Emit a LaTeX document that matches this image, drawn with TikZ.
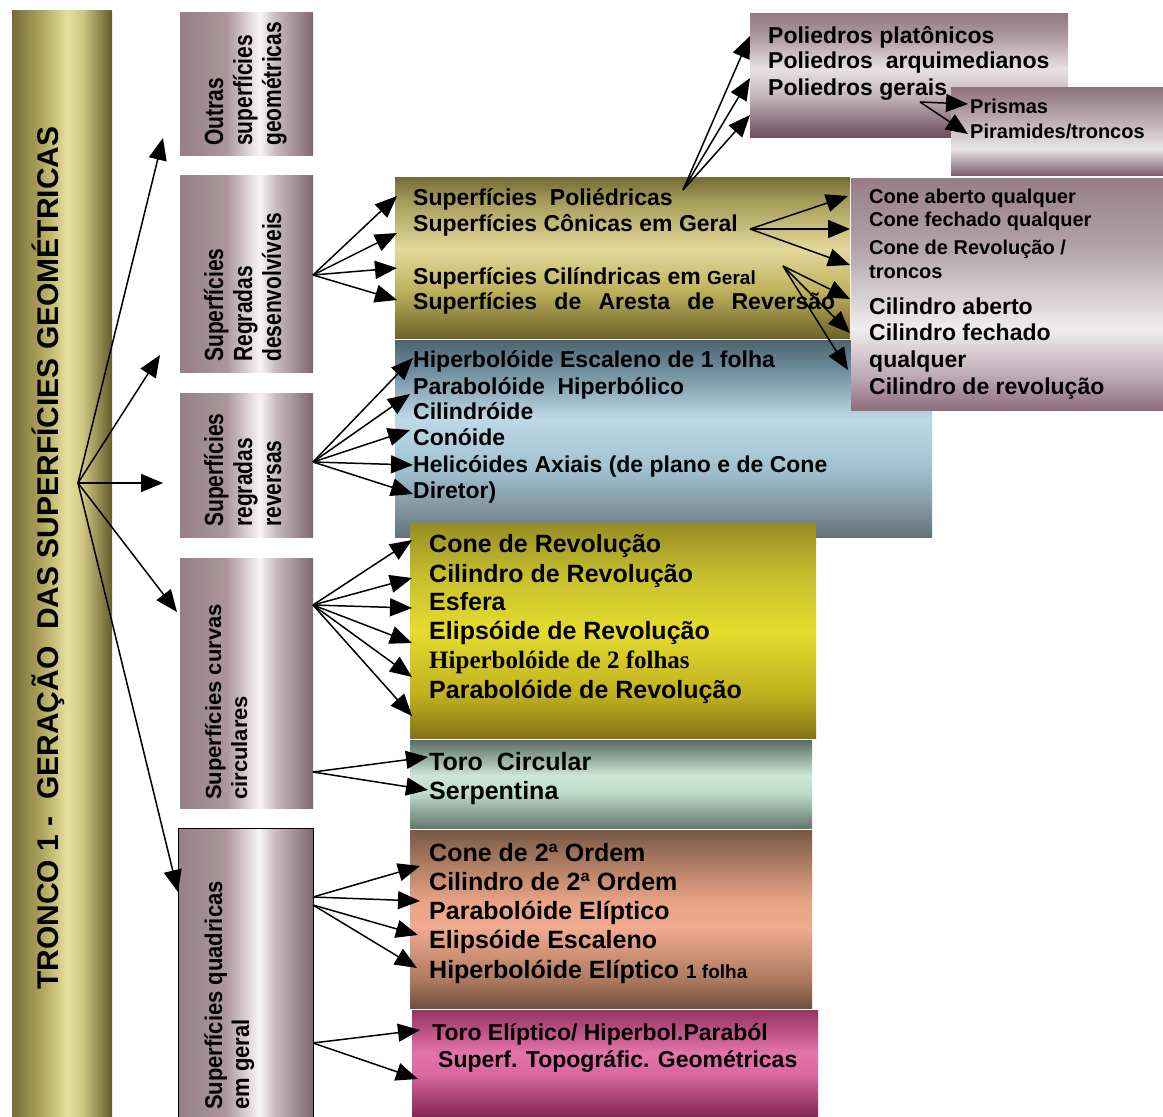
\documentclass[tikz,border=0pt]{standalone}
\usepackage{graphicx}
\usepackage{fontspec}
\setmainfont{Liberation Sans}
\newfontfamily\serifbold{Liberation Serif}
\usetikzlibrary{arrows.meta}

% ---------- shadings (stops between 25bp and 75bp cover the shaded path) ----------
% horizontal: colour varies from left (25bp) to right (75bp)
\pgfdeclarehorizontalshading{trunkshade}{100bp}{rgb(0bp)=(.47,.43,.22); rgb(25bp)=(.47,.43,.22); rgb(40bp)=(.69,.65,.37); rgb(52.5bp)=(.90,.88,.62); rgb(60bp)=(.82,.78,.52); rgb(75bp)=(.39,.36,.16); rgb(100bp)=(.39,.36,.16)}
\pgfdeclarehorizontalshading{mauveH}{100bp}{rgb(0bp)=(.59,.50,.53); rgb(25bp)=(.59,.50,.53); rgb(42.5bp)=(.67,.59,.61); rgb(51bp)=(.88,.84,.86); rgb(55bp)=(.97,.96,.97); rgb(61bp)=(.78,.73,.75); rgb(75bp)=(.50,.40,.44); rgb(100bp)=(.50,.40,.44)}
% vertical: colour varies from bottom (25bp) to top (75bp)
\pgfdeclareverticalshading{polyV}{100bp}{rgb(0bp)=(.43,.31,.37); rgb(25bp)=(.43,.31,.37); rgb(42.5bp)=(.78,.73,.75); rgb(52.5bp)=(.91,.88,.89); rgb(65bp)=(.69,.61,.64); rgb(75bp)=(.57,.47,.51); rgb(100bp)=(.57,.47,.51)}
\pgfdeclareverticalshading{prismV}{100bp}{rgb(0bp)=(.49,.37,.43); rgb(25bp)=(.49,.37,.43); rgb(40bp)=(.92,.90,.91); rgb(55bp)=(.75,.69,.71); rgb(75bp)=(.55,.45,.49); rgb(100bp)=(.55,.45,.49)}
\pgfdeclareverticalshading{oliveV}{100bp}{rgb(0bp)=(.43,.39,.16); rgb(25bp)=(.43,.39,.16); rgb(40bp)=(.75,.70,.37); rgb(52.5bp)=(.89,.85,.61); rgb(67.5bp)=(.65,.61,.35); rgb(75bp)=(.45,.42,.22); rgb(100bp)=(.45,.42,.22)}
\pgfdeclareverticalshading{coneV}{100bp}{rgb(0bp)=(.55,.43,.49); rgb(25bp)=(.55,.43,.49); rgb(32.5bp)=(.75,.67,.71); rgb(42.5bp)=(.94,.93,.93); rgb(60bp)=(.70,.64,.66); rgb(75bp)=(.59,.49,.53); rgb(100bp)=(.59,.49,.53)}
\pgfdeclareverticalshading{blueV}{100bp}{rgb(0bp)=(.39,.45,.47); rgb(25bp)=(.39,.45,.47); rgb(32.5bp)=(.51,.59,.63); rgb(42.5bp)=(.63,.76,.82); rgb(55bp)=(.75,.85,.90); rgb(67.5bp)=(.43,.55,.61); rgb(75bp)=(.31,.39,.43); rgb(100bp)=(.31,.39,.43)}
\pgfdeclareverticalshading{yellowV}{100bp}{rgb(0bp)=(.51,.45,.08); rgb(25bp)=(.51,.45,.08); rgb(35bp)=(.75,.69,.12); rgb(50bp)=(.90,.86,.18); rgb(62.5bp)=(.78,.75,.18); rgb(75bp)=(.59,.55,.14); rgb(100bp)=(.59,.55,.14)}
\pgfdeclareverticalshading{greenV}{100bp}{rgb(0bp)=(.39,.47,.43); rgb(25bp)=(.39,.47,.43); rgb(45bp)=(.75,.86,.80); rgb(55bp)=(.80,.90,.84); rgb(75bp)=(.35,.43,.39); rgb(100bp)=(.35,.43,.39)}
\pgfdeclareverticalshading{brownV}{100bp}{rgb(0bp)=(.43,.31,.24); rgb(25bp)=(.43,.31,.24); rgb(32.5bp)=(.67,.47,.37); rgb(47.5bp)=(.94,.67,.56); rgb(55bp)=(.91,.64,.52); rgb(75bp)=(.47,.35,.27); rgb(100bp)=(.47,.35,.27)}
\pgfdeclareverticalshading{pinkV}{100bp}{rgb(0bp)=(.51,.16,.33); rgb(25bp)=(.51,.16,.33); rgb(32.5bp)=(.63,.24,.43); rgb(45bp)=(.86,.41,.63); rgb(55bp)=(.89,.45,.66); rgb(75bp)=(.59,.20,.39); rgb(100bp)=(.59,.20,.39)}

\newcommand\fs[2]{\fontsize{#1}{#2}\selectfont}
% taller glyphs for the labels standing on end
\newcommand\tall[1]{\scalebox{1}[1.25]{#1}}

\begin{document}
\begin{tikzpicture}[x=1pt,y=-1pt,
  box/.style={shade, inner sep=0pt, outer sep=0pt, anchor=north west},
  txt/.style={anchor=base west, inner sep=0pt, font=\bfseries\fs{23}{27}},
  big/.style={anchor=base west, inner sep=0pt, font=\bfseries\fs{25}{29}},
  sml/.style={anchor=base west, inner sep=0pt, font=\bfseries\fs{20}{24}},
  vlab/.style={anchor=base west, inner sep=0pt, rotate=90, font=\bfseries\fs{21}{25}},
  arr/.style={line width=1.5pt, -{Triangle[length=22pt,width=18pt]}}]

\useasboundingbox (0,0) rectangle (1163,1117);
\fill[white] (0,0) rectangle (1163,1117);

% ---------------- trunk ----------------
\node[box, shading=trunkshade, minimum width=100pt, minimum height=1107pt] (trunk) at (12,10) {};
\node[anchor=base west, inner sep=0pt, rotate=90, font=\bfseries\fs{30}{34}] (trunktxt) at (58,990)
  {TRONCO 1 -\ \ GERAÇÃO\ \ DAS SUPERFÍCIES GEOMÉTRICAS};

% ---------------- first level (labels on end) ----------------
\node[box, shading=mauveH, minimum width=133pt, minimum height=143pt] (outras) at (180,12) {};
\node[vlab] at (223,146) {\tall{Outras}};
\node[vlab] at (252,146) {\tall{superfícies}};
\node[vlab] at (281,146) {\tall{geométricas}};

\node[box, shading=mauveH, minimum width=133pt, minimum height=197pt] (desenv) at (180,175) {};
\node[vlab] at (223,362) {\tall{Superfícies}};
\node[vlab] at (252,362) {\tall{Regradas}};
\node[vlab] at (281,362) {\tall{desenvolvíveis}};

\node[box, shading=mauveH, minimum width=133pt, minimum height=144pt] (revers) at (180,393) {};
\node[vlab] at (223,527) {\tall{Superfícies}};
\node[vlab] at (252,527) {\tall{regradas}};
\node[vlab] at (281,527) {\tall{reversas}};

\node[box, shading=mauveH, minimum width=133pt, minimum height=250pt] (curvas) at (180,558) {};
\node[vlab, font=\bfseries\fs{22}{26}] at (221,800) {Superfícies curvas};
\node[vlab, font=\bfseries\fs{22}{26}] at (247,800) {circulares};

\node[box, shading=mauveH, draw=black, line width=0.9pt, minimum width=135pt, minimum height=292pt] (quadr) at (178,828) {};
\node[vlab, font=\bfseries\fs{22}{26}] at (222,1110) {\scalebox{1}[1.1]{Superfícies quadricas}};
\node[vlab, font=\bfseries\fs{22}{26}] at (249,1110) {\scalebox{1}[1.1]{em geral}};

% ---------------- second level boxes ----------------
\node[box, shading=oliveV, minimum width=455pt, minimum height=161pt] (devbox) at (395,177) {};
\node[txt] (spol) at (413,205) {Superfícies\ \ Poliédricas};
\node[txt] (scon) at (413,231) {Superfícies Cônicas em Geral};
\node[txt] (scil) at (413,284) {Superfícies Cilíndricas em {\fs{19}{23}Geral}};
\node[txt] (sare) at (413,309) {\makebox[422pt][s]{Superfícies de Aresta de Reversão}};

\node[box, shading=blueV, minimum width=537pt, minimum height=197pt] (revbox) at (395,340) {};
\node[txt] at (413,367) {Hiperbolóide Escaleno de 1 folha};
\node[txt] at (413,394) {Parabolóide\ \ Hiperbólico};
\node[txt] at (413,419) {Cilindróide};
\node[txt] at (413,445) {Conóide};
\node[txt] at (413,472) {Helicóides Axiais (de plano e de Cone};
\node[txt] at (413,498) {Diretor)};

\node[box, shading=yellowV, minimum width=406pt, minimum height=215pt] (circbox) at (410,523) {};
\node[big] at (429,552) {Cone de Revolução};
\node[big] at (429,582) {Cilindro de Revolução};
\node[big] at (429,610) {Esfera};
\node[big] at (429,639) {Elipsóide de Revolução};
\node[big, font=\serifbold\bfseries\fs{25}{29}] at (429,668) {Hiperbolóide de 2 folhas};
\node[big] at (429,698) {Parabolóide de Revolução};

\node[box, shading=greenV, minimum width=402pt, minimum height=88pt] (torobox) at (410,740) {};
\node[big] at (429,770) {Toro\ \ Circular};
\node[big] at (429,799) {Serpentina};

\node[box, shading=brownV, minimum width=402pt, minimum height=178pt] (quadbox) at (410,830) {};
\node[big] at (429,861) {Cone de 2ª Ordem};
\node[big] at (429,890) {Cilindro de 2ª Ordem};
\node[big] at (429,919) {Parabolóide Elíptico};
\node[big] at (429,948) {Elipsóide Escaleno};
\node[big] at (429,978) {Hiperbolóide Elíptico {\fs{19}{23}1 folha}};

\node[box, shading=pinkV, minimum width=406pt, minimum height=107pt] (pinkbox) at (412,1010) {};
\node[txt] at (432,1040) {Toro Elíptico/ Hiperbol.Paraból};
\node[txt] at (438,1067) {Superf. Topográfic. Geométricas};

% ---------------- third level boxes ----------------
\node[box, shading=polyV, minimum width=318pt, minimum height=124pt] (polybox) at (750,13) {};
\node[txt] at (768,43) {Poliedros platônicos};
\node[txt] at (768,68) {Poliedros\ \ arquimedianos};
\node[txt] (pger) at (768,95) {Poliedros gerais};

\node[box, shading=prismV, minimum width=212pt, minimum height=88pt] (prismbox) at (951,87) {};
\node[sml] at (970,113) {Prismas};
\node[sml] at (970,138) {Piramides/troncos};

\node[box, shading=coneV, minimum width=312pt, minimum height=232pt] (conebox) at (851,178) {};
\node[sml] at (869,203) {Cone aberto qualquer};
\node[sml] at (869,226) {Cone fechado qualquer};
\node[sml] at (869,254) {Cone de Revolução /};
\node[sml] at (869,278) {troncos};
\node[txt] at (869,314) {Cilindro aberto};
\node[txt] at (869,340) {Cilindro fechado};
\node[txt] at (869,367) {qualquer};
\node[txt] at (869,394) {Cilindro de revolução};

% ---------------- connector ends ----------------
\coordinate (hub) at (78,483);
\coordinate (hO) at (163,138);  \coordinate (hD) at (160,355);
\coordinate (hR) at (163,483);  \coordinate (hC) at (177,612);
\coordinate (hQ) at (178,892);

\coordinate (p0) at (683,190);
\coordinate (p1) at (750,36); \coordinate (p2) at (750,78); \coordinate (p3) at (750,115);
\coordinate (g0) at (920,102);
\coordinate (g1) at (968,104); \coordinate (g2) at (968,134);

\coordinate (d0) at (313,275);
\coordinate (d1) at (397,196); \coordinate (d2) at (397,233);
\coordinate (d3) at (397,268); \coordinate (d4) at (397,300);

\coordinate (c0) at (750,229);
\coordinate (c1) at (848,196); \coordinate (c2) at (850,229); \coordinate (c3) at (850,265);
\coordinate (y0) at (783,266);
\coordinate (y1) at (850,299); \coordinate (y2) at (850,333); \coordinate (y3) at (848,370);

\coordinate (r0) at (313,462);
\coordinate (r1) at (413,358); \coordinate (r2) at (410,394); \coordinate (r3) at (410,430);
\coordinate (r4) at (413,465); \coordinate (r5) at (413,494);

\coordinate (v0) at (313,605);
\coordinate (v1) at (412,540); \coordinate (v2) at (412,578); \coordinate (v3) at (412,608);
\coordinate (v4) at (412,643); \coordinate (v5) at (412,677); \coordinate (v6) at (412,716);

\coordinate (t0) at (313,772);
\coordinate (t1) at (428,757); \coordinate (t2) at (428,790);

\coordinate (q0) at (313,897); \coordinate (q0b) at (313,905);
\coordinate (q1) at (420,866); \coordinate (q2) at (420,901);
\coordinate (q3) at (418,935); \coordinate (q4) at (417,968);

\coordinate (k0) at (313,1043);
\coordinate (k1) at (420,1030); \coordinate (k2) at (418,1079);

% ---------------- connectors ----------------
\foreach \t in {hO,hD,hR,hC,hQ} \draw[arr] (hub) -- (\t);
\foreach \t in {p1,p2,p3} \draw[arr] (p0) -- (\t);
\foreach \t in {g1,g2} \draw[arr] (g0) -- (\t);
\foreach \t in {d1,d2,d3,d4} \draw[arr] (d0) -- (\t);
\foreach \t in {c1,c2,c3} \draw[arr] (c0) -- (\t);
\foreach \t in {y1,y2,y3} \draw[arr] (y0) -- (\t);
\foreach \t in {r1,r2,r3,r4,r5} \draw[arr] (r0) -- (\t);
\foreach \t in {v1,v2,v3,v4,v5,v6} \draw[arr] (v0) -- (\t);
\foreach \t in {t1,t2} \draw[arr] (t0) -- (\t);
\foreach \t in {q1,q2} \draw[arr] (q0) -- (\t);
\foreach \t in {q3,q4} \draw[arr] (q0b) -- (\t);
\foreach \t in {k1,k2} \draw[arr] (k0) -- (\t);

\end{tikzpicture}
\end{document}
